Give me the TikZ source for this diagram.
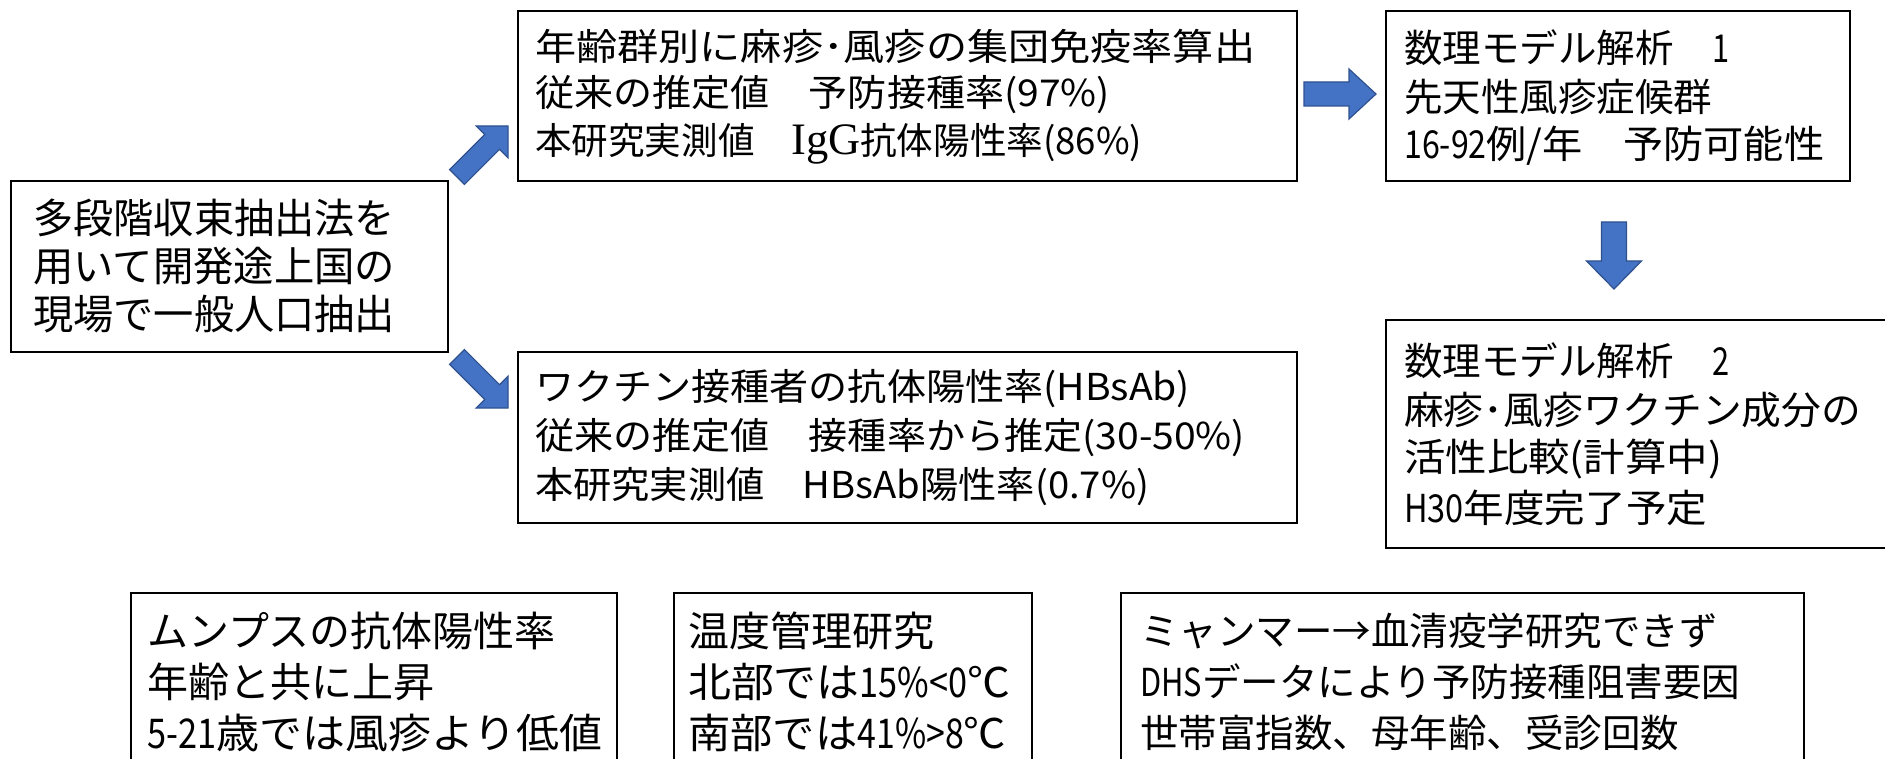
\documentclass[tikz,border=0pt]{standalone}
\usepackage{fontspec}
\usepackage{graphicx}
\setmainfont{Noto Sans CJK JP}
\newfontfamily\serifjp{Liberation Serif}
\usetikzlibrary{calc}
\newsavebox\fitbox
\newlength\fitw
\newcommand\fitline[2]{\sbox\fitbox{#2}\fitw=\wd\fitbox\pgfmathsetmacro\fitr{#1/\fitw}\scalebox{\fitr}[1]{\usebox\fitbox}}
\newcommand\nar[1]{\scalebox{0.8}[1]{#1}}
\newcommand\blockarrow[6]{%
  \coordinate (#1n) at ($(#3)!#6!(#2)$);
  \filldraw[blockarr] ($(#2)!#4!90:(#3)$) -- ($(#1n)!#4!90:(#3)$) -- ($(#1n)!#5!90:(#3)$) -- (#3)
    -- ($(#1n)!#5!-90:(#3)$) -- ($(#1n)!#4!-90:(#3)$) -- ($(#2)!#4!-90:(#3)$) -- cycle;}
\tikzset{
  box/.style={draw=black, line width=1.6pt, inner sep=0pt, anchor=north west},
  txt/.style={inner sep=0pt, anchor=west, font=\fontsize{38.5}{46}\selectfont},
  txtbig/.style={txt, font=\fontsize{41}{48}\selectfont},
  txtmid/.style={txt, font=\fontsize{37}{44}\selectfont},
  blockarr/.style={fill=arrowblue, draw=arrowedge, line width=1.2pt, line join=miter},
}
\definecolor{arrowblue}{HTML}{4472C4}
\definecolor{arrowedge}{HTML}{2F528F}
\begin{document}
\begin{tikzpicture}[x=1pt, y=-1pt]
\path[use as bounding box, fill=white] (0,0) rectangle (1885,759);
\clip (0,0) rectangle (1885,759);

% boxes
\node[box, minimum width=437pt, minimum height=171pt] (src) at (10,180) {};
\node[box, minimum width=779pt, minimum height=170pt] (top) at (517,10) {};
\node[box, minimum width=779pt, minimum height=171pt] (bot) at (517,351) {};
\node[box, minimum width=464pt, minimum height=170pt] (mA) at (1385,10) {};
\node[box, minimum width=530pt, minimum height=228pt] (mB) at (1385,319) {};
\node[box, minimum width=486pt, minimum height=220pt] (mu) at (130,592) {};
\node[box, minimum width=358pt, minimum height=220pt] (te) at (673,592) {};
\node[box, minimum width=683pt, minimum height=220pt] (my) at (1120,592) {};

% source box text
\node[txtbig] (src1) at (33,218) {\fitline{362}{多段階収束抽出法を}};
\node[txtbig] (src2) at (33,266) {\fitline{362}{用いて開発途上国の}};
\node[txtbig] (src3) at (33,314) {\fitline{362}{現場で一般人口抽出}};

% top box text
\node[txtmid] (top1) at (535,46) {\fitline{720}{年齢群別に麻疹･風疹の集団免疫率算出}};
\node[txtmid] (top2) at (535,95) {\fitline{575}{従来の推定値　予防接種率(97\%)}};
\node[txtmid] (top3) at (535,144) {\fitline{607}{本研究実測値　{\serifjp\fontsize{45}{45}\selectfont IgG}抗体陽性率(86\%)}};

% bottom-middle box text
\node[txtmid] (bot1) at (535,389) {\fitline{655}{ワクチン接種者の抗体陽性率(HBsAb)}};
\node[txtmid] (bot2) at (535,438) {\fitline{710}{従来の推定値　接種率から推定(30-50\%)}};
\node[txtmid] (bot3) at (535,487) {\fitline{614}{本研究実測値　HBsAb陽性率(0.7\%)}};

% model 1
\node[txt] (mA1) at (1404,48) {数理モデル解析　\nar{1}};
\node[txt] (mA2) at (1404,97) {先天性風疹症候群};
\node[txt] (mA3) at (1404,146) {\fitline{420}{\nar{16-92}例/年　予防可能性}};

% model 2
\node[txt] (mB1) at (1404,361) {数理モデル解析　\nar{2}};
\node[txt] (mB2) at (1404,410) {\fitline{457}{麻疹･風疹ワクチン成分の}};
\node[txt] (mB3) at (1404,459) {\fitline{318}{活性比較(計算中)}};
\node[txt] (mB4) at (1404,508) {\fitline{303}{\nar{H30}年度完了予定}};

% mumps
\node[txtbig] (mu1) at (147,631) {ムンプスの抗体陽性率};
\node[txtbig] (mu2) at (147,682) {年齢と共に上昇};
\node[txtbig] (mu3) at (147,733) {\fitline{455}{\nar{5-21}歳では風疹より低値}};

% temperature
\node[txtbig] (te1) at (688,631) {温度管理研究};
\node[txtbig] (te2) at (688,682) {\fitline{322}{北部では\nar{15\%<0}℃}};
\node[txtbig] (te3) at (688,733) {\fitline{318}{南部では\nar{41\%>8}℃}};

% myanmar
\node[txt] (my1) at (1140,631) {ミャンマー→血清疫学研究できず};
\node[txt] (my2) at (1140,682) {\nar{DHS}データにより予防接種阻害要因};
\node[txt] (my3) at (1140,733) {世帯富指数、母年齢、受診回数};

% block arrows
\coordinate (a1s) at (457,177);
\coordinate (a1e) at (508,126);
\coordinate (a2s) at (457,357);
\coordinate (a2e) at (508,408);
\coordinate (a3s) at (1304,94);
\coordinate (a3e) at (1376,94);
\coordinate (a4s) at (1614,222);
\coordinate (a4e) at (1614,289);
\blockarrow{a1}{a1s}{a1e}{10.5pt}{22.5pt}{22.5pt}
\blockarrow{a2}{a2s}{a2e}{10.5pt}{22.5pt}{22.5pt}
\blockarrow{a3}{a3s}{a3e}{12pt}{25pt}{27pt}
\blockarrow{a4}{a4s}{a4e}{12.5pt}{27.5pt}{28pt}
\end{tikzpicture}
\end{document}
